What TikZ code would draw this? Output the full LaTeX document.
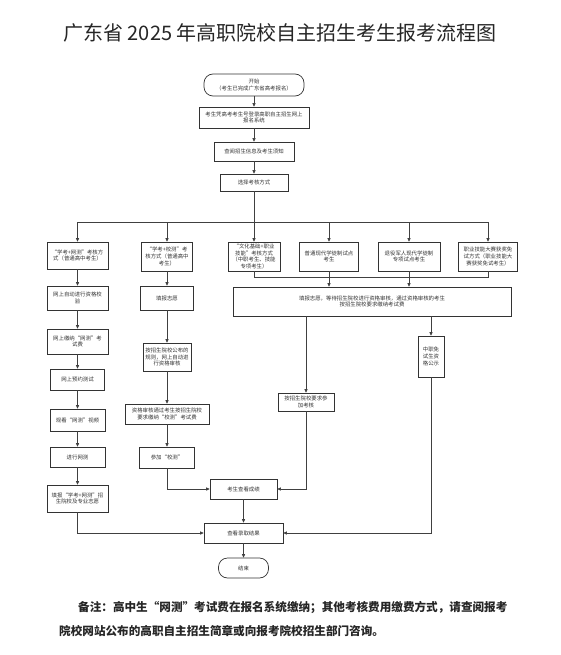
\documentclass[tikz,border=0pt]{standalone}
\usepackage{fontspec}
\newfontfamily\cjk{Noto Sans CJK SC}
\usetikzlibrary{arrows.meta}
\begin{document}
\begin{tikzpicture}[x=1pt,y=-1pt,
  box/.style={draw=black!80, line width=0.7pt, fill=white, align=center, inner sep=0pt,
    text=black!80, font=\cjk\fontsize{5.4}{6.6}\selectfont},
  pill/.style={box, rounded corners=9pt},
  conn/.style={draw=black!75, line width=0.7pt},
  arr/.style={conn, -{Triangle[length=3.6pt,width=3.2pt]}}
]
\path[use as bounding box, fill=white] (0,0) rectangle (560,655);

\node[font=\cjk\fontsize{20}{24}\selectfont, text=black!85] (title) at (280,33) {广东省 2025 年高职院校自主招生考生报考流程图};

% top trunk
\node[pill, minimum width=100pt, minimum height=22pt] (start) at (254,85) {开始\\（考生已完成广东省高考报名）};
\node[box, minimum width=110pt, minimum height=21pt] (b2) at (254,117.5) {考生凭高考考生号登录高职自主招生网上\\报名系统};
\node[box, minimum width=80pt, minimum height=19pt] (b3) at (254,151.5) {查阅招生信息及考生须知};
\node[box, minimum width=68pt, minimum height=17pt] (b4) at (254,182.5) {选择考核方式};

% left column
\node[box, minimum width=61pt, minimum height=27pt] (L1) at (77.5,255.5) {“学考+网测”考核方\\式（普通高中考生）};
\node[box, minimum width=61pt, minimum height=24pt] (L2) at (77.5,298) {网上自动进行资格校\\验};
\node[box, minimum width=61pt, minimum height=25pt] (L3) at (77.5,341.5) {网上缴纳“网测”考\\试费};
\node[box, minimum width=54pt, minimum height=21pt] (L4) at (77.5,379.5) {网上预约测试};
\node[box, minimum width=55pt, minimum height=22pt] (L5) at (77.5,420) {观看“网测”视频};
\node[box, minimum width=55pt, minimum height=20pt] (L6) at (77.5,457) {进行网测};
\node[box, minimum width=61pt, minimum height=27pt] (L7) at (77.5,498.5) {填报“学考+网测”招\\生院校及专业志愿};

% middle column
\node[box, minimum width=51pt, minimum height=29pt] (M1) at (167,256.5) {“学考+校测”考\\核方式（普通高中\\考生）};
\node[box, minimum width=53pt, minimum height=24pt] (M2) at (167,298) {填报志愿};
\node[box, minimum width=48pt, minimum height=28pt] (M3) at (167,357) {按招生院校公布的\\规则，网上自动进\\行资格审核};
\node[box, minimum width=84pt, minimum height=20pt] (M4) at (167,414) {资格审核通过考生按招生院校\\要求缴纳“校测”考试费};
\node[box, minimum width=55pt, minimum height=21pt] (M5) at (167,457.5) {参加“校测”};

% other branches
\node[box, minimum width=52pt, minimum height=29pt] (C1) at (254,256.5) {“文化基础+职业\\技能”考核方式\\（中职考生、技能\\专项考生）};
\node[box, minimum width=59pt, minimum height=29pt] (C2) at (329,256.5) {普通现代学徒制试点\\考生};
\node[box, minimum width=62pt, minimum height=29pt] (C3) at (409,256.5) {退役军人现代学徒制\\专项试点考生};
\node[box, minimum width=59pt, minimum height=29pt] (C4) at (488,256.5) {职业技能大赛获奖免\\试方式（职业技能大\\赛获奖免试考生）};
\node[box, minimum width=278pt, minimum height=29pt] (big) at (372,301.5) {填报志愿，等待招生院校进行资格审核，通过资格审核的考生\\按招生院校要求缴纳考试费};
\node[box, minimum width=26pt, minimum height=41pt] (R1) at (431,356.5) {中职免\\试生资\\格公示};
\node[box, minimum width=56pt, minimum height=18pt] (C5) at (306,402) {按招生院校要求参\\加考核};

% bottom
\node[box, minimum width=67pt, minimum height=20pt] (S1) at (243.5,489) {考生查看成绩};
\node[box, minimum width=79pt, minimum height=20pt] (S2) at (243.5,533) {查看录取结果};
\node[pill, minimum width=50pt, minimum height=20pt] (end) at (243.5,568) {结束};

% connectors: trunk
\draw[arr] (start) -- (b2);
\draw[arr] (b2) -- (b3);
\draw[arr] (b3) -- (b4);
\coordinate (br) at (254,222);
\draw[arr] (b4) -- (C1);
\draw[conn] (L1 |- br) -- (C4 |- br);
\draw[arr] (L1 |- br) -- (L1);
\draw[arr] (M1 |- br) -- (M1);
\draw[arr] (C2 |- br) -- (C2);
\draw[arr] (C3 |- br) -- (C3);
\draw[arr] (C4 |- br) -- (C4);

% left column
\draw[arr] (L1) -- (L2);
\draw[arr] (L2) -- (L3);
\draw[arr] (L3) -- (L4);
\draw[arr] (L4) -- (L5);
\draw[arr] (L5) -- (L6);
\draw[arr] (L6) -- (L7);
\draw[arr] (L7) |- (S2);

% middle column
\draw[arr] (M1) -- (M2);
\draw[arr] (M2) -- (M3);
\draw[arr] (M3) -- (M4);
\draw[arr] (M4) -- (M5);
\draw[arr] (M5) |- (S1);

% collect line
\coordinate (cl) at (0,277);
\draw[conn] (C1.south) -- (C1 |- cl) -- (C4 |- cl) -- (C4.south);
\draw[arr] (C2) -- (C2 |- big.north);
\draw[arr] (C3) -- (C3 |- big.north);
\draw[arr] (big.south -| C5) -- (C5);
\draw[arr] (big.south -| R1) -- (R1);
\draw[arr] (C5) |- (S1);
\draw[arr] (R1) |- (S2);
\draw[arr] (S1) -- (S2);
\draw[arr] (S2) -- (end);

% note
\node[anchor=west, inner sep=0pt, font=\cjk\bfseries\fontsize{11.6}{14}\selectfont, text=black!85] (note1) at (78,608) {备注：高中生“网测”考试费在报名系统缴纳；其他考核费用缴费方式，请查阅报考};
\node[anchor=west, inner sep=0pt, font=\cjk\bfseries\fontsize{11.6}{14}\selectfont, text=black!85] (note2) at (59,631) {院校网站公布的高职自主招生简章或向报考院校招生部门咨询。};
\end{tikzpicture}
\end{document}
